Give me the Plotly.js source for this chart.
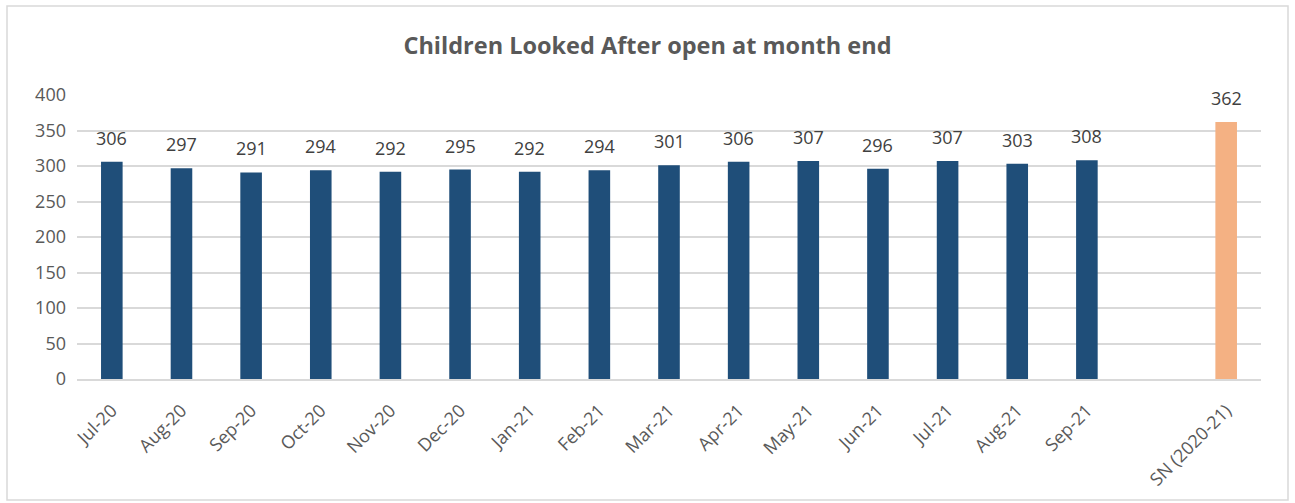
<!DOCTYPE html>
<html><head><meta charset="utf-8">
<script src="https://cdn.plot.ly/plotly-3.0.1.min.js"></script>
<style>html,body{margin:0;padding:0;background:#fff}#chart{width:1295px;height:503px}</style>
</head><body><div id="chart"></div>
<script>
const months = ["Jul-20","Aug-20","Sep-20","Oct-20","Nov-20","Dec-20","Jan-21","Feb-21","Mar-21","Apr-21","May-21","Jun-21","Jul-21","Aug-21","Sep-21"];
const monthValues = [306,297,291,294,292,295,292,294,301,306,307,296,307,303,308];
const gapCategory = " ";
const snCategory = "SN (2020-21)";
const snValue = [362];
const yTicks = [0,50,100,150,200,250,300,350,400];

const categories = months.concat([gapCategory, snCategory]);
const W = 1295, H = 503, L = 77, R = 34, T = 95, B = 124;
const pw = W - L - R, ph = H - T - B;
const FONT = '"Open Sans", Lato, sans-serif';

const traces = [
  {type:'bar', x: months, y: monthValues, marker:{color:'#1f4e79', line:{color:'#1f4e79', width:0}}, width:0.31, hoverinfo:'x+y'},
  {type:'bar', x: [snCategory], y: snValue, marker:{color:'#f4b183'}, width:0.31, hoverinfo:'x+y'}
];

const labelFont = {family:FONT, size:18, color:'#404040'};
const annotations = months.map((m,i)=>({x:m, y:monthValues[i], text:String(monthValues[i]), showarrow:false, yanchor:'bottom', yshift:10, font:labelFont}))
  .concat([{x:snCategory, y:snValue[0], text:String(snValue[0]), showarrow:false, yanchor:'bottom', yshift:10, font:labelFont}]);

const layout = {
  width:W, height:H,
  margin:{l:L, r:R, t:T, b:B, pad:0},
  paper_bgcolor:'#ffffff', plot_bgcolor:'#ffffff',
  barmode:'overlay',
  showlegend:false,
  title:{text:'<b>Children Looked After open at month end</b>', x:0.5, xanchor:'center', y:1-46/H, yanchor:'middle',
         font:{family:FONT, size:23.5, color:'#595959'}},
  xaxis:{type:'category', categoryorder:'array', categoryarray:categories, range:[-0.5, categories.length-0.5],
         tickangle:-45, tickfont:{family:FONT, size:18, color:'#595959'}, ticklabelstandoff:12,
         showgrid:false, showline:true, linecolor:'#d9d9d9', linewidth:2, ticks:'', zeroline:false},
  yaxis:{range:[0,400], tickvals:yTicks, ticktext:yTicks.map(String), showgrid:true, gridcolor:'#d9d9d9', gridwidth:2,
         zeroline:false, showline:false, ticks:'', ticklabelstandoff:10,
         tickfont:{family:FONT, size:18, color:'#595959'}},
  annotations: annotations,
  shapes:[{type:'rect', xref:'paper', yref:'paper', x0:(7-L)/pw, x1:(1288-L)/pw, y0:(H-B-500)/ph, y1:(H-B-6)/ph,
           line:{color:'#d9d9d9', width:1.5}, fillcolor:'rgba(0,0,0,0)', layer:'below'}]
};
Plotly.newPlot('chart', traces, layout, {displayModeBar:false, staticPlot:true});
</script></body></html>
